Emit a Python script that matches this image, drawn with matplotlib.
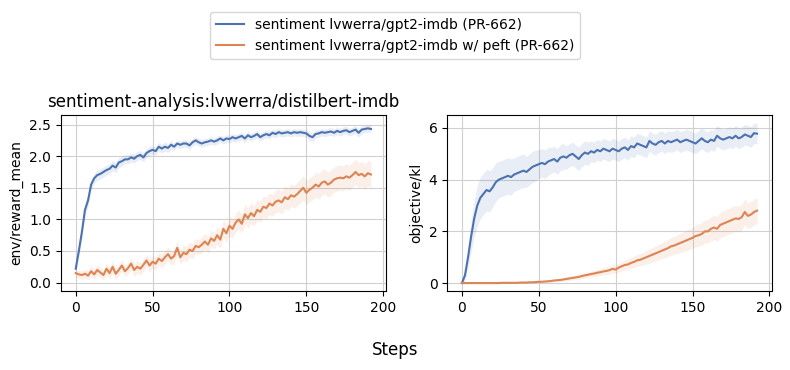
import numpy as np
import matplotlib
matplotlib.use("Agg")
import matplotlib.pyplot as plt

steps = list(range(0, 193, 2))

reward_base = [0.22, 0.5, 0.8, 1.15, 1.3, 1.55, 1.65, 1.7, 1.72, 1.75, 1.78, 1.8, 1.85, 1.82, 1.9, 1.92,
               1.95, 1.95, 1.98, 1.96, 2.0, 2.02, 1.98, 2.05, 2.08, 2.1, 2.08, 2.15, 2.12, 2.15, 2.13, 2.18,
               2.15, 2.2, 2.18, 2.2, 2.2, 2.17, 2.22, 2.25, 2.22, 2.2, 2.22, 2.23, 2.25, 2.23, 2.25, 2.28,
               2.25, 2.28, 2.27, 2.3, 2.28, 2.3, 2.32, 2.28, 2.33, 2.3, 2.32, 2.35, 2.3, 2.33, 2.35, 2.33,
               2.37, 2.35, 2.38, 2.36, 2.37, 2.38, 2.36, 2.38, 2.37, 2.38, 2.37, 2.36, 2.32, 2.3, 2.35, 2.36,
               2.38, 2.37, 2.38, 2.39, 2.37, 2.4, 2.38, 2.4, 2.41, 2.38, 2.4, 2.42, 2.37, 2.42, 2.43, 2.44, 2.43]
reward_base_err = [0.05, 0.08, 0.1, 0.1, 0.1, 0.08, 0.08, 0.08, 0.08, 0.08, 0.08, 0.08, 0.08, 0.08, 0.08, 0.08,
                   0.07, 0.07, 0.07, 0.07, 0.07, 0.07, 0.07, 0.07, 0.07, 0.07, 0.07, 0.07, 0.07, 0.07, 0.07, 0.07,
                   0.06, 0.06, 0.06, 0.06, 0.06, 0.06, 0.06, 0.06, 0.06, 0.06, 0.06, 0.06, 0.06, 0.06, 0.06, 0.06,
                   0.06, 0.06, 0.06, 0.06, 0.06, 0.06, 0.06, 0.06, 0.06, 0.06, 0.06, 0.06, 0.06, 0.06, 0.06, 0.06,
                   0.06, 0.06, 0.06, 0.06, 0.06, 0.06, 0.06, 0.06, 0.06, 0.06, 0.06, 0.06, 0.07, 0.07, 0.06, 0.06,
                   0.06, 0.06, 0.06, 0.06, 0.06, 0.06, 0.06, 0.06, 0.06, 0.06, 0.06, 0.06, 0.07, 0.06, 0.06, 0.06, 0.06]

reward_peft = [0.15, 0.13, 0.12, 0.14, 0.11, 0.18, 0.13, 0.2, 0.16, 0.12, 0.22, 0.15, 0.25, 0.14, 0.2, 0.27,
               0.18, 0.23, 0.3, 0.2, 0.25, 0.22, 0.28, 0.35, 0.27, 0.33, 0.3, 0.38, 0.34, 0.4, 0.45, 0.38,
               0.42, 0.55, 0.4, 0.47, 0.45, 0.52, 0.5, 0.58, 0.56, 0.6, 0.65, 0.6, 0.7, 0.66, 0.75, 0.68,
               0.85, 0.78, 0.9, 0.85, 0.95, 1.0, 0.93, 1.08, 1.02, 1.1, 1.05, 1.15, 1.12, 1.2, 1.18, 1.25,
               1.22, 1.28, 1.3, 1.27, 1.35, 1.32, 1.38, 1.36, 1.4, 1.45, 1.5, 1.42, 1.47, 1.5, 1.55, 1.52,
               1.58, 1.6, 1.55, 1.58, 1.63, 1.65, 1.66, 1.65, 1.68, 1.66, 1.7, 1.75, 1.7, 1.72, 1.68, 1.73, 1.71]
reward_peft_err = [0.06, 0.06, 0.07, 0.07, 0.07, 0.08, 0.08, 0.08, 0.08, 0.08, 0.09, 0.09, 0.09, 0.09, 0.09, 0.09,
                   0.09, 0.09, 0.1, 0.1, 0.1, 0.1, 0.1, 0.1, 0.1, 0.1, 0.1, 0.1, 0.11, 0.11, 0.11, 0.11,
                   0.11, 0.11, 0.11, 0.12, 0.12, 0.12, 0.12, 0.12, 0.12, 0.13, 0.13, 0.13, 0.13, 0.13, 0.14, 0.14,
                   0.14, 0.14, 0.15, 0.15, 0.15, 0.15, 0.15, 0.16, 0.16, 0.16, 0.16, 0.16, 0.17, 0.17, 0.17, 0.17,
                   0.17, 0.18, 0.18, 0.18, 0.18, 0.18, 0.18, 0.18, 0.19, 0.19, 0.19, 0.19, 0.19, 0.19, 0.2, 0.2,
                   0.2, 0.2, 0.2, 0.2, 0.2, 0.2, 0.2, 0.2, 0.2, 0.2, 0.2, 0.2, 0.2, 0.2, 0.2, 0.2, 0.2]

kl_base = [0.0, 0.3, 1.0, 1.8, 2.5, 3.0, 3.3, 3.45, 3.6, 3.55, 3.7, 3.9, 4.0, 4.05, 4.1, 4.15,
           4.1, 4.2, 4.25, 4.3, 4.35, 4.3, 4.4, 4.5, 4.55, 4.6, 4.65, 4.6, 4.7, 4.75, 4.8, 4.7,
           4.85, 4.9, 4.85, 4.95, 5.0, 4.9, 4.8, 4.95, 5.05, 5.0, 5.1, 5.05, 5.15, 5.1, 5.2, 5.15,
           5.1, 5.2, 5.15, 5.1, 5.2, 5.25, 5.15, 5.3, 5.25, 5.4, 5.35, 5.3, 5.25, 5.5, 5.4, 5.35,
           5.45, 5.5, 5.4, 5.5, 5.45, 5.5, 5.55, 5.45, 5.5, 5.55, 5.5, 5.45, 5.4, 5.5, 5.6, 5.5,
           5.45, 5.55, 5.5, 5.7, 5.6, 5.55, 5.6, 5.65, 5.6, 5.7, 5.6, 5.65, 5.75, 5.7, 5.65, 5.8, 5.78]
kl_base_err = [0.02, 0.2, 0.4, 0.6, 0.7, 0.8, 0.8, 0.8, 0.8, 0.8, 0.75, 0.75, 0.7, 0.7, 0.7, 0.7,
               0.7, 0.65, 0.65, 0.65, 0.65, 0.6, 0.6, 0.6, 0.6, 0.55, 0.55, 0.55, 0.55, 0.5, 0.5, 0.5,
               0.5, 0.5, 0.45, 0.45, 0.45, 0.45, 0.45, 0.45, 0.45, 0.45, 0.4, 0.4, 0.4, 0.4, 0.4, 0.4,
               0.4, 0.4, 0.4, 0.4, 0.4, 0.4, 0.4, 0.4, 0.4, 0.4, 0.4, 0.4, 0.4, 0.4, 0.4, 0.4,
               0.4, 0.4, 0.4, 0.4, 0.4, 0.4, 0.4, 0.4, 0.4, 0.4, 0.4, 0.4, 0.4, 0.4, 0.4, 0.4,
               0.4, 0.4, 0.4, 0.4, 0.4, 0.4, 0.4, 0.4, 0.4, 0.4, 0.4, 0.4, 0.4, 0.4, 0.4, 0.4, 0.4]

kl_peft = [0.0, 0.0, 0.0, 0.0, 0.0, 0.0, 0.0, 0.0, 0.0, 0.0, 0.0, 0.0, 0.0, 0.01, 0.01, 0.01,
           0.01, 0.01, 0.01, 0.02, 0.02, 0.02, 0.03, 0.03, 0.04, 0.05, 0.05, 0.06, 0.07, 0.08, 0.1, 0.11,
           0.12, 0.14, 0.16, 0.18, 0.2, 0.22, 0.24, 0.27, 0.3, 0.32, 0.35, 0.37, 0.4, 0.42, 0.45, 0.47,
           0.5, 0.55, 0.52, 0.6, 0.65, 0.7, 0.72, 0.78, 0.82, 0.88, 0.9, 0.95, 1.0, 1.05, 1.1, 1.15,
           1.2, 1.25, 1.3, 1.35, 1.42, 1.45, 1.5, 1.55, 1.6, 1.65, 1.7, 1.75, 1.82, 1.85, 1.9, 2.0,
           2.0, 2.1, 2.15, 2.1, 2.25, 2.3, 2.35, 2.4, 2.45, 2.5, 2.48, 2.55, 2.75, 2.6, 2.65, 2.75, 2.8]
kl_peft_err = [0.0, 0.0, 0.0, 0.0, 0.0, 0.0, 0.0, 0.0, 0.0, 0.0, 0.0, 0.0, 0.0, 0.01, 0.01, 0.01,
               0.01, 0.01, 0.01, 0.01, 0.01, 0.01, 0.02, 0.02, 0.02, 0.03, 0.03, 0.03, 0.04, 0.04, 0.05, 0.05,
               0.06, 0.06, 0.07, 0.07, 0.08, 0.08, 0.09, 0.1, 0.1, 0.11, 0.12, 0.12, 0.13, 0.13, 0.14, 0.15,
               0.15, 0.16, 0.16, 0.17, 0.18, 0.19, 0.2, 0.21, 0.22, 0.23, 0.24, 0.25, 0.26, 0.27, 0.28, 0.29,
               0.3, 0.31, 0.32, 0.33, 0.34, 0.35, 0.36, 0.37, 0.38, 0.39, 0.4, 0.41, 0.42, 0.43, 0.44, 0.45,
               0.45, 0.46, 0.47, 0.48, 0.49, 0.5, 0.5, 0.5, 0.5, 0.5, 0.5, 0.5, 0.5, 0.5, 0.5, 0.5, 0.5]

labels = ["sentiment lvwerra/gpt2-imdb (PR-662)",
          "sentiment lvwerra/gpt2-imdb w/ peft (PR-662)"]
colors = ["#4c72b0", "#dd8452"]
title = "sentiment-analysis:lvwerra/distilbert-imdb"

fig = plt.figure(figsize=(7.9, 3.7), dpi=100)
ax1 = fig.add_axes([0.0772, 0.214, 0.411, 0.475])
ax2 = fig.add_axes([0.566, 0.214, 0.411, 0.475])

x = np.array(steps)
handles = []
for ax, series, errs in [(ax1, [reward_base, reward_peft], [reward_base_err, reward_peft_err]),
                         (ax2, [kl_base, kl_peft], [kl_base_err, kl_peft_err])]:
    for s, e, c, lab in zip(series, errs, colors, labels):
        s = np.array(s); e = np.array(e)
        ax.fill_between(x, s - e, s + e, color=c, alpha=0.12, linewidth=0)
        h, = ax.plot(x, s, color=c, linewidth=1.5, label=lab)
        if ax is ax1:
            handles.append(h)
    ax.grid(True, color="#d0d0d0", linewidth=0.8)
    ax.set_axisbelow(True)
    ax.set_xticks([0, 50, 100, 150, 200])
    ax.tick_params(labelsize=10)

ax1.set_ylabel("env/reward_mean")
ax1.set_yticks([0.0, 0.5, 1.0, 1.5, 2.0, 2.5])
ax1.set_ylim(-0.13, 2.65)
ax1.set_title(title, fontsize=12)
ax2.set_ylabel("objective/kl")
ax2.set_yticks([0, 2, 4, 6])
ax2.set_ylim(-0.3, 6.5)

fig.legend(handles=handles, loc="upper center", bbox_to_anchor=(0.5, 0.985), fontsize=10)
fig.supxlabel("Steps", y=0.03, fontsize=12)
fig.savefig("out.png", dpi=100)
